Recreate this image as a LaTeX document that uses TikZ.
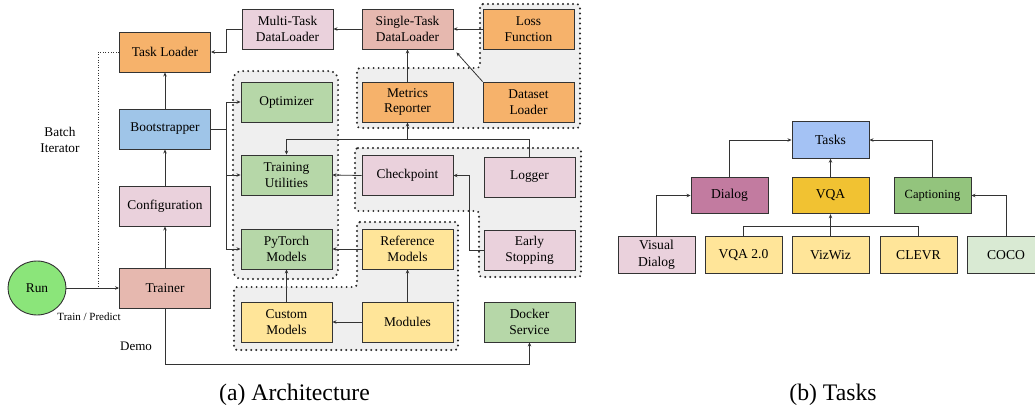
\documentclass[tikz,border=0pt]{standalone}
\usepackage{fontspec}
\setmainfont{Liberation Serif}
\usetikzlibrary{arrows.meta,shapes.geometric}
\definecolor{linec}{HTML}{333333}
\definecolor{regionc}{HTML}{EFEFEF}
\definecolor{orangec}{HTML}{F6B26B}
\definecolor{salmonc}{HTML}{E6B8AF}
\definecolor{pinkc}{HTML}{EAD1DC}
\definecolor{bluec}{HTML}{9FC5E8}
\definecolor{greenc}{HTML}{B6D7A8}
\definecolor{yellowc}{HTML}{FFE599}
\definecolor{runc}{HTML}{8BE57A}
\definecolor{tasksc}{HTML}{A4C2F4}
\definecolor{dialogc}{HTML}{C27BA0}
\definecolor{vqac}{HTML}{F1C232}
\definecolor{capc}{HTML}{93C47D}
\definecolor{cococ}{HTML}{D9EAD3}
\tikzset{
  box/.style={draw=linec, line width=0.9pt, minimum width=91pt, minimum height=40pt,
    inner sep=0pt, align=center, font=\fontsize{13.4}{15.7}\selectfont},
  tbox/.style={draw=linec, line width=0.9pt, minimum width=77pt, minimum height=36.5pt,
    inner sep=0pt, align=center, font=\fontsize{13.6}{17}\selectfont},
  arr/.style={draw=linec, line width=0.8pt, -{Stealth[length=4pt,width=3.5pt]}},
  conn/.style={draw=linec, line width=0.8pt},
  region/.style={fill=regionc, draw=black!85, line width=2.2pt, line cap=round,
    dash pattern=on 0pt off 5pt},
  lbl/.style={inner sep=0pt, align=center}
}
\begin{document}
\begin{tikzpicture}[x=1pt,y=-1pt]
\useasboundingbox (0,0) rectangle (1035,410);
\clip (0,0) rectangle (1035,410);
% grey regions
\draw[region, rounded corners=9pt] (233,71) rectangle (338,279);
\draw[region, rounded corners=3pt] (480,4) -- (580,4) -- (580,128) -- (357,128) -- (357,68) -- (480,68) -- cycle;
\draw[region, rounded corners=3pt] (355,148) -- (581,148) -- (581,277) -- (479,277) -- (479,211) -- (355,211) -- cycle;
\draw[region, rounded corners=3pt] (357,222) -- (458,222) -- (458,350) -- (234,350) -- (234,287) -- (357,287) -- cycle;
% architecture nodes
\node[box, fill=orangec] (taskl) at (165,52) {Task Loader};
\node[box, fill=pinkc] (mtdl) at (287.5,29) {Multi-Task\\DataLoader};
\node[box, fill=salmonc] (stdl) at (407.5,29) {Single-Task\\DataLoader};
\node[box, fill=orangec] (loss) at (528.5,29) {Loss\\Function};
\node[box, fill=orangec] (metrics) at (407.5,102) {Metrics\\Reporter};
\node[box, fill=orangec] (dsl) at (528.5,102) {Dataset\\Loader};
\node[box, fill=bluec] (boot) at (165,129) {Bootstrapper};
\node[box, fill=greenc] (opt) at (286.5,102) {Optimizer};
\node[box, fill=greenc] (tu) at (286.5,175) {Training\\Utilities};
\node[box, fill=pinkc] (ckpt) at (407.5,175.5) {Checkpoint};
\node[box, fill=pinkc] (logger) at (529.5,177) {Logger};
\node[box, fill=pinkc] (conf) at (165,206) {Configuration};
\node[box, fill=greenc] (ptm) at (286.5,249) {PyTorch\\Models};
\node[box, fill=yellowc] (ref) at (407.5,249) {Reference\\Models};
\node[box, fill=pinkc] (es) at (529.5,250) {Early\\Stopping};
\node[ellipse, draw=linec, line width=0.9pt, fill=runc, minimum width=58pt, minimum height=54pt,
  inner sep=0pt, font=\fontsize{13.4}{15.7}\selectfont] (run) at (37,288) {Run};
\node[box, fill=salmonc] (trainer) at (165,288) {Trainer};
\node[box, fill=yellowc] (custom) at (286.5,322) {Custom\\Models};
\node[box, fill=yellowc] (modules) at (407.5,322) {Modules};
\node[box, fill=greenc] (docker) at (529.5,322) {Docker\\Service};
% labels
\node[lbl, font=\fontsize{13.3}{16}\selectfont] (batch) at (60,140) {Batch\\Iterator};
\node[lbl, font=\fontsize{11}{13}\selectfont] (tp) at (89,317) {Train / Predict};
\node[lbl, font=\fontsize{13}{15}\selectfont] (demo) at (136,346) {Demo};
% architecture connectors
\draw[arr] (mtdl.west) -- (226,29) |- (taskl.east);
\draw[arr] (stdl.west) -- (mtdl.east);
\draw[arr] (loss.west) -- (stdl.east);
\draw[arr] (dsl.north west) -- ([shift={(3pt,-3pt)}]stdl.south east);
\draw[arr] (metrics.north) -- (stdl.south);
\coordinate (lj) at (logger.north |- 0,139.5);
\draw[arr] (logger.north) -- (lj) -| (tu.north);
\draw[arr] (lj -| metrics.south) -- (metrics.south);
\draw[arr] (ckpt.west) -- (tu.east);
\draw[arr] (es.west) -- (469,250) |- (ckpt.east);
\draw[arr] (ref.west) -- (ptm.east);
\draw[arr] (modules.north) -- (ref.south);
\draw[arr] (modules.west) -- (custom.east);
\draw[arr] (custom.north) -- (ptm.south);
\coordinate (bj) at (226,129);
\draw[conn] (boot.east) -- (bj);
\draw[arr] (bj) |- (opt.west);
\draw[arr] (bj) |- (tu.west);
\draw[arr] (bj) |- (ptm.west);
\draw[arr] (boot.north) -- (taskl.south);
\draw[arr] (conf.north) -- (boot.south);
\draw[arr] (trainer.north) -- (conf.south);
\draw[conn, line width=0.6pt, dotted] (taskl.west) -- (98,52) -- (98,288) -- (trainer.west);
\draw[arr] (run.east) -- (trainer.west);
\draw[arr] (trainer.south) -- (165,364) -| (docker.south);
% tasks diagram
\node[tbox, fill=tasksc] (tasks) at (830.5,140) {Tasks};
\node[tbox, fill=dialogc] (dialog) at (729.5,195.5) {Dialog};
\node[tbox, fill=vqac] (vqa) at (830.5,195.5) {VQA};
\node[tbox, fill=capc, font=\fontsize{12.5}{15}\selectfont] (cap) at (932.5,195.5) {Captioning};
\node[tbox, fill=pinkc] (vd) at (656.5,255) {Visual\\Dialog};
\node[tbox, fill=yellowc] (vqa2) at (743.5,255) {VQA 2.0};
\node[tbox, fill=yellowc] (vizwiz) at (830.5,255) {VizWiz};
\node[tbox, fill=yellowc] (clevr) at (918.5,255) {CLEVR};
\node[tbox, fill=cococ] (coco) at (1006,255) {COCO};
\draw[arr] (dialog.north) |- (tasks.west);
\draw[arr] (vqa.north) -- (tasks.south);
\draw[arr] (cap.north) |- (tasks.east);
\draw[arr] (vd.north) |- (dialog.west);
\draw[arr] (coco.north) |- (cap.east);
\coordinate (vj) at (vqa.south |- 0,226);
\draw[conn] (vqa2.north) |- (vj);
\draw[conn] (clevr.north) |- (vj);
\draw[arr] (vizwiz.north) -- (vqa.south);
% captions
\node[lbl, font=\fontsize{23.7}{26}\selectfont] (capa) at (294.5,395) {(a) Architecture};
\node[lbl, font=\fontsize{23.7}{26}\selectfont] (capb) at (833,395) {(b) Tasks};
\end{tikzpicture}
\end{document}
